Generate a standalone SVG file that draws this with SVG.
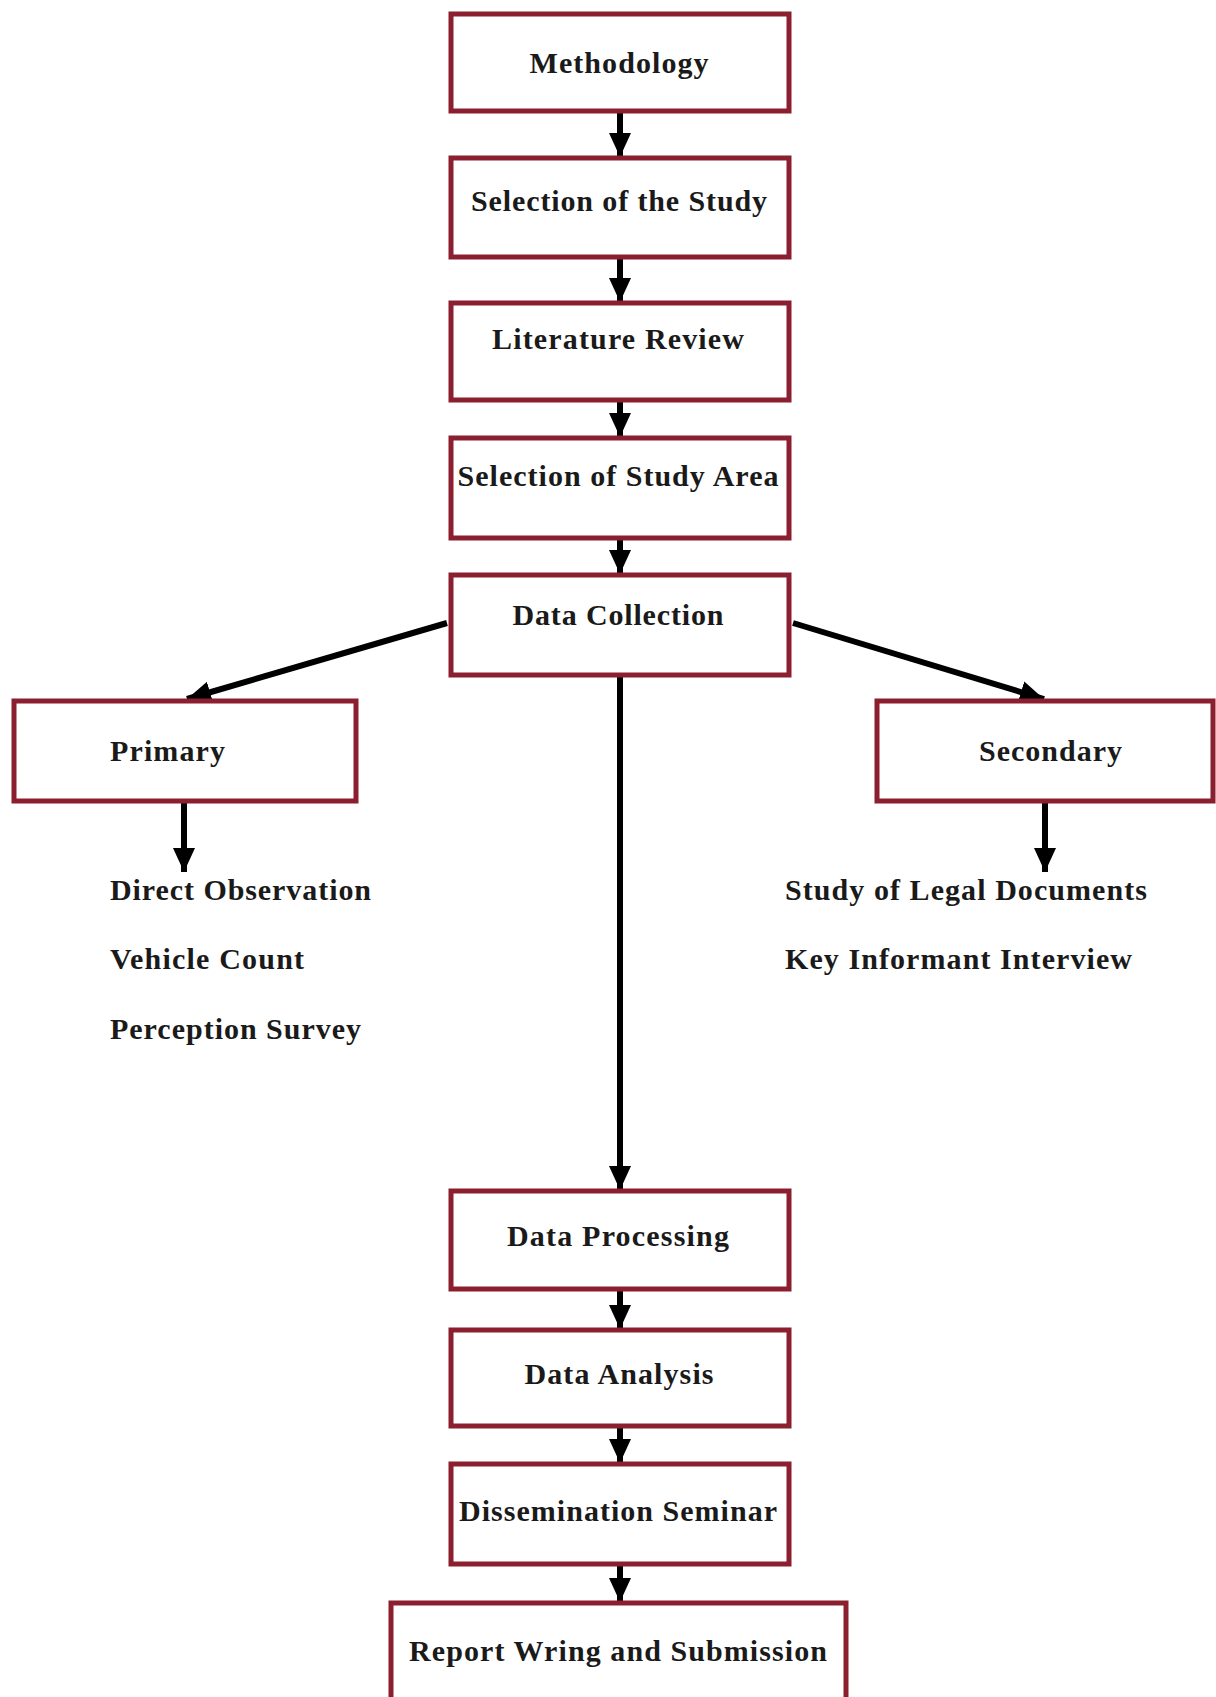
<svg xmlns="http://www.w3.org/2000/svg" width="1216" height="1697" viewBox="0 0 1216 1697">
<style>
.box{fill:#ffffff;stroke:#8b1e2f;stroke-width:5}
.t{font-family:"Liberation Serif","Times New Roman",serif;font-weight:bold;font-size:30px;fill:#1a1a1a}
.c{text-anchor:middle}
.ln{stroke:#000;stroke-width:6;fill:none}
</style>
<defs>
<marker id="ah" markerUnits="userSpaceOnUse" markerWidth="24" markerHeight="24" refX="24" refY="11" orient="auto" viewBox="0 0 24 22">
<path d="M0,0 L24,11 L0,22 Z" fill="#000"/>
</marker>
</defs>
<rect width="1216" height="1697" fill="#ffffff"/>
<g id="connectors">
<line class="ln" x1="620" y1="112" x2="620" y2="157" marker-end="url(#ah)"/>
<line class="ln" x1="620" y1="258" x2="620" y2="302" marker-end="url(#ah)"/>
<line class="ln" x1="620" y1="401" x2="620" y2="437" marker-end="url(#ah)"/>
<line class="ln" x1="620" y1="539" x2="620" y2="574" marker-end="url(#ah)"/>
<line class="ln" x1="447" y1="623" x2="187" y2="699" marker-end="url(#ah)"/>
<line class="ln" x1="793" y1="623" x2="1044" y2="699" marker-end="url(#ah)"/>
<line class="ln" x1="620" y1="676" x2="620" y2="1190" marker-end="url(#ah)"/>
<line class="ln" x1="184" y1="802" x2="184" y2="872" marker-end="url(#ah)"/>
<line class="ln" x1="1045" y1="802" x2="1045" y2="872" marker-end="url(#ah)"/>
<line class="ln" x1="620" y1="1290" x2="620" y2="1329" marker-end="url(#ah)"/>
<line class="ln" x1="620" y1="1427" x2="620" y2="1463" marker-end="url(#ah)"/>
<line class="ln" x1="620" y1="1565" x2="620" y2="1602" marker-end="url(#ah)"/>
</g>
<g id="methodology"><rect class="box" x="451" y="14" width="338" height="97"/><text class="t c" x="619" y="73" textLength="179" lengthAdjust="spacing">Methodology</text></g>
<g id="selection-study"><rect class="box" x="451" y="158" width="338" height="99"/><text class="t c" x="619" y="211" textLength="296" lengthAdjust="spacing">Selection of the Study</text></g>
<g id="literature-review"><rect class="box" x="451" y="303" width="338" height="97"/><text class="t c" x="618" y="349" textLength="252" lengthAdjust="spacing">Literature Review</text></g>
<g id="study-area"><rect class="box" x="451" y="438" width="338" height="100"/><text class="t c" x="618" y="486" textLength="321" lengthAdjust="spacing">Selection of Study Area</text></g>
<g id="data-collection"><rect class="box" x="451" y="575" width="338" height="100"/><text class="t c" x="618" y="625" textLength="211" lengthAdjust="spacing">Data Collection</text></g>
<g id="primary"><rect class="box" x="14" y="701" width="342" height="100"/><text class="t" x="110" y="761" textLength="115" lengthAdjust="spacing">Primary</text></g>
<g id="secondary"><rect class="box" x="877" y="701" width="336" height="100"/><text class="t" x="979" y="761" textLength="143" lengthAdjust="spacing">Secondary</text></g>
<g id="primary-items">
<text class="t" x="110" y="900" textLength="261" lengthAdjust="spacing">Direct Observation</text>
<text class="t" x="110" y="969" textLength="194" lengthAdjust="spacing">Vehicle Count</text>
<text class="t" x="110" y="1039" textLength="251" lengthAdjust="spacing">Perception Survey</text>
</g>
<g id="secondary-items">
<text class="t" x="785" y="900" textLength="362" lengthAdjust="spacing">Study of Legal Documents</text>
<text class="t" x="785" y="969" textLength="347" lengthAdjust="spacing">Key Informant Interview</text>
</g>
<g id="data-processing"><rect class="box" x="451" y="1191" width="338" height="98"/><text class="t c" x="618" y="1246" textLength="222" lengthAdjust="spacing">Data Processing</text></g>
<g id="data-analysis"><rect class="box" x="451" y="1330" width="338" height="96"/><text class="t c" x="619" y="1384" textLength="189" lengthAdjust="spacing">Data Analysis</text></g>
<g id="dissemination"><rect class="box" x="451" y="1464" width="338" height="100"/><text class="t c" x="618" y="1521" textLength="318" lengthAdjust="spacing">Dissemination Seminar</text></g>
<g id="report"><rect class="box" x="391" y="1603" width="455" height="110"/><text class="t c" x="618" y="1661" textLength="418" lengthAdjust="spacing">Report Wring and Submission</text></g>
</svg>
